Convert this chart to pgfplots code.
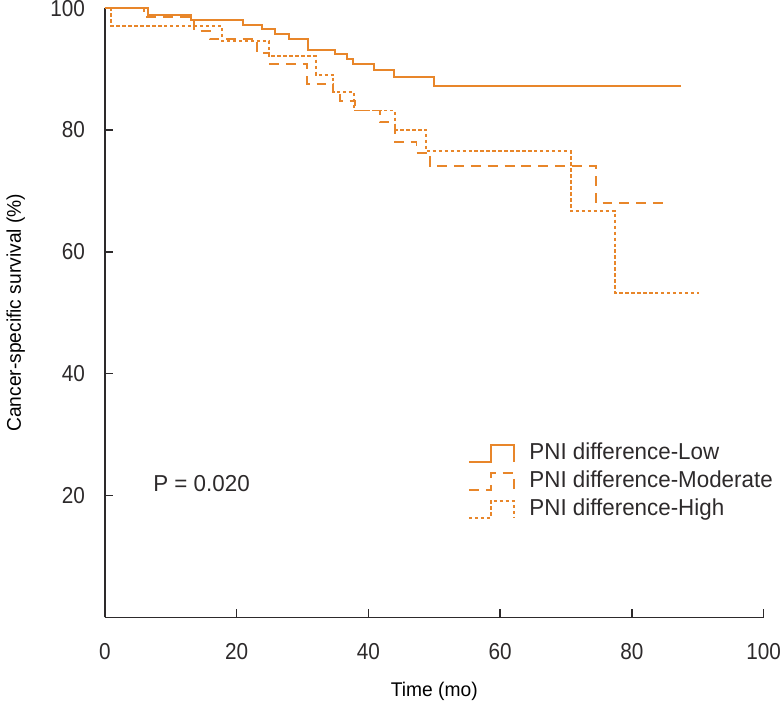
\documentclass[border=0pt]{standalone}
\usepackage{fontspec}
\setmainfont{Liberation Sans}[FakeStretch=0.97]
\newfontfamily\tickfont{Liberation Sans}[FakeStretch=0.9]
\usepackage{pgfplots}
\pgfplotsset{compat=1.18}
\definecolor{kmorange}{RGB}{232,134,42}
\definecolor{axgray}{RGB}{45,42,43}
\newcommand{\kmfont}{\fontsize{11.6bp}{14bp}\selectfont}
\newcommand{\lbfont}{\fontsize{13bp}{15bp}\selectfont}
\begin{document}
\begin{tikzpicture}
\begin{axis}[
  scale only axis, width=331.5bp, height=306.5bp,
  xmin=0, xmax=100, ymin=0, ymax=100,
  axis lines*=left,
  axis line style={axgray, line width=0.8bp},
  tick style={axgray, line width=0.8bp},
  major tick length=4bp,
  tick align=inside,
  xtick={0,20,...,100}, ytick={20,40,...,100},
  /pgf/number format/assume math mode=true,
  tick label style={font=\tickfont\kmfont, text=axgray, inner sep=0pt},
  label style={font=\lbfont, text=axgray, inner sep=0pt},
  xticklabel style={anchor=north, yshift=-13bp},
  yticklabel style={anchor=east, xshift=-9.8bp},
  xlabel={Time (mo)}, ylabel={Cancer-specific survival (\%)},
  every axis x label/.style={at={(rel axis cs:0.5,0)}, yshift=-37.5bp, anchor=center},
  every axis y label/.style={at={(rel axis cs:0,0.5)}, xshift=-44.8bp, anchor=center, rotate=90},
  clip=false,
  legend image code/.code={\draw[#1] (0bp,-4.25bp) -- (11bp,-4.25bp) -- (11bp,4.25bp) -- (22.5bp,4.25bp) -- (22.5bp,-4.25bp);},
  legend cell align=left,
  legend style={at={(axis cs:55.1,22.3)}, anchor=west, draw=none, fill=none,
    inner sep=0pt, outer sep=0pt, row sep=0pt, font=\kmfont,
    nodes={text=axgray, text height=8.5bp, text depth=2.5bp, inner sep=1.5bp},
    /tikz/every odd column/.append style={column sep=6bp}},
]
\addplot[const plot, kmorange, line width=1bp] coordinates {
(0,100) (6.5,98.8) (13.0,98.0) (21.0,97.3) (23.9,96.6) (25.8,95.7) (27.9,94.9)
(30.8,93.1) (34.9,92.5) (36.8,91.7) (37.7,90.9) (40.9,89.9) (43.9,88.7) (49.9,87.3) (87.4,87.3)};
\addlegendentry{PNI difference-Low}
\addplot[const plot, kmorange, line width=1bp, dash pattern=on 5bp off 3.5bp] coordinates {
(0,100) (6.0,98.5) (13.6,96.3) (15.9,94.9) (23.1,92.7) (24.9,90.9) (30.7,87.6)
(34.7,86.2) (35.7,84.7) (38.0,83.2) (41.7,81.3) (44.0,78.1) (47.3,76.3) (49.3,74.1)
(74.5,68.0) (85.5,68.0)};
\addlegendentry{PNI difference-Moderate}
\addplot[const plot, kmorange, line width=1bp, dash pattern=on 1.7bp off 1.3bp] coordinates {
(0,100) (1.0,97.0) (17.8,94.6) (24.9,92.1) (32.0,89.1) (34.7,86.2) (37.8,83.2)
(44.0,80.0) (48.8,76.5) (70.7,66.7) (77.4,53.3) (90.2,53.3)};
\addlegendentry{PNI difference-High}
\node[anchor=west, font=\kmfont, text=axgray, inner sep=0pt] at (axis cs:7.3,22) {P = 0.020};
\end{axis}
\end{tikzpicture}
\end{document}
